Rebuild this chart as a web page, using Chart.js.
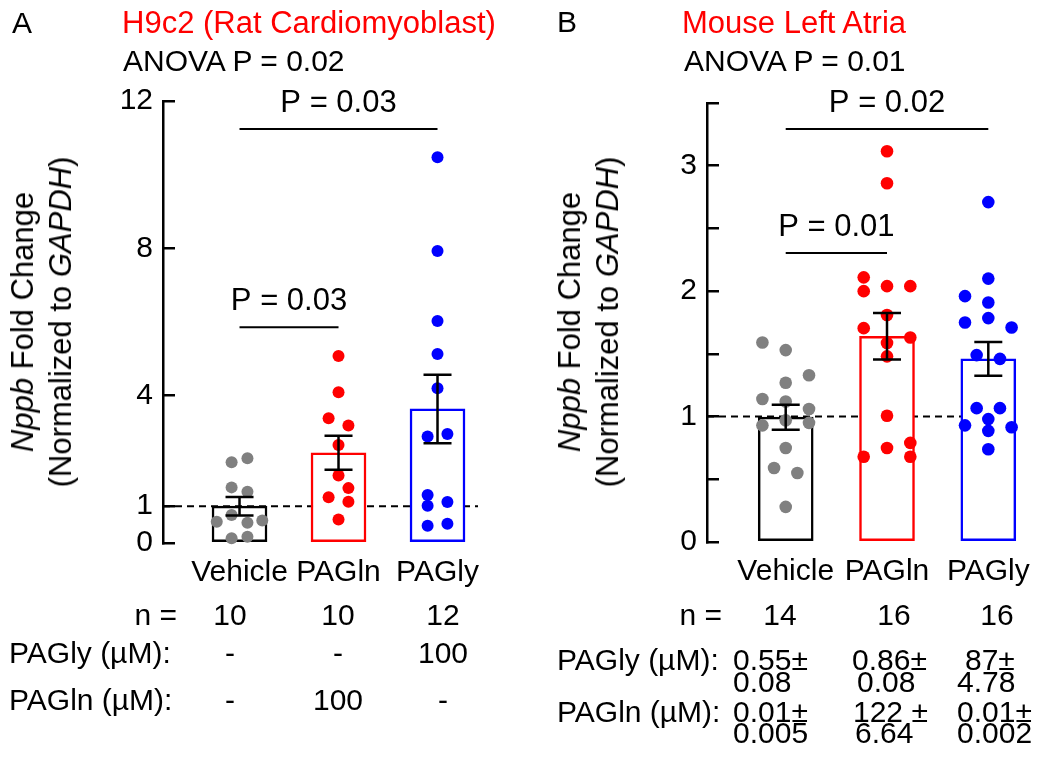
<!DOCTYPE html>
<html>
<head>
<meta charset="utf-8">
<script src="https://cdn.jsdelivr.net/npm/chart.js@4.4.1/dist/chart.umd.min.js"></script>
<style>
  body { margin: 0; background: #fff; }
  #page { position: relative; width: 1050px; height: 775px; overflow: hidden;
          font-family: 'Liberation Sans', Arial, sans-serif; color: #000; }
  canvas { position: absolute; top: 0; }
  .t { position: absolute; white-space: nowrap; }
  .ytitle { position: absolute; white-space: nowrap; font-size: 31px; line-height: 38px;
            text-align: center; transform: translate(-50%, -50%) rotate(-90deg); }
</style>
</head>
<body>
<div id="page">
  <canvas id="chartA" width="525" height="600" style="left:0"></canvas>
  <canvas id="chartB" width="525" height="600" style="left:525px"></canvas>
  <div class="ytitle" style="left:42px; top:322px"><div><i>Nppb</i> Fold Change</div><div>(Normalized to <i>GAPDH</i>)</div></div>
  <div class="ytitle" style="left:589px; top:322px"><div><i>Nppb</i> Fold Change</div><div>(Normalized to <i>GAPDH</i>)</div></div>
</div>
<script>
const categories = ['Vehicle', 'PAGln', 'PAGly'];

// panel A - H9c2 cells
const aVehicle = [2.19, 2.30, 1.51, 1.39, 0.76, 0.58, 0.55, 0.61, 0.13, 0.17];
const aVehicleJitter = [-0.08, 0.08, -0.08, 0.08, -0.08, -0.23, 0.08, 0.23, -0.08, 0.08];
const aPAGln = [5.08, 4.09, 3.39, 3.19, 2.66, 1.83, 1.49, 1.24, 1.12, 0.64];
const aPAGlnJitter = [0, 0, -0.1, 0.1, 0, 0, 0.1, -0.1, 0.1, 0];
const aPAGly = [10.47, 7.93, 6.03, 5.13, 4.20, 2.89, 2.96, 1.30, 1.01, 1.11, 0.47, 0.52];
const aPAGlyJitter = [0, 0, 0, 0, 0, -0.1, 0.1, -0.1, -0.1, 0.1, -0.1, 0.1];
const aMeans = [1.0, 2.45, 3.64];
const aSem = [0.25, 0.46, 0.93];
const aYTicks = [0, 1, 4, 8, 12];
const aN = ['10', '10', '12'];
const aPAGlyDose = ['-', '-', '100'];
const aPAGlnDose = ['-', '100', '-'];

// panel B - mouse left atria
const bVehicle = [1.59, 1.53, 1.33, 1.27, 1.14, 1.12, 1.06, 0.97, 0.93, 0.95, 0.75, 0.59, 0.55, 0.28];
const bVehicleJitter = [-0.23, 0, 0.23, 0, -0.23, 0, 0.23, 0, -0.23, 0.23, 0, -0.115, 0.115, 0];
const bPAGln = [3.115, 2.86, 2.11, 2.00, 2.04, 2.04, 1.81, 1.705, 1.63, 1.586, 1.48, 1.006, 0.79, 0.75, 0.68, 0.68];
const bPAGlnJitter = [0, 0, -0.23, -0.23, 0, 0.23, 0, -0.23, 0.23, 0, 0, 0, 0.23, 0, -0.23, 0.23];
const bPAGly = [2.71, 2.10, 1.96, 1.91, 1.75, 1.785, 1.71, 1.49, 1.46, 1.067, 1.067, 0.98, 0.93, 0.915, 0.886, 0.74];
const bPAGlyJitter = [0, 0, -0.23, 0, -0.23, 0, 0.23, -0.115, 0.115, -0.115, 0.115, 0, -0.23, 0.23, 0, 0];
const bMeans = [0.995, 1.64, 1.46];
const bSem = [0.10, 0.185, 0.135];
const bYTicks = [0, 0.5, 1, 1.5, 2, 2.5, 3, 3.5];
const bN = ['14', '16', '16'];
const bPAGlyConc = [['0.55±', '0.08'], ['0.86±', '0.08'], ['87±', '4.78']];
const bPAGlnConc = [['0.01±', '0.005'], ['122 ±', '6.64'], ['0.01±', '0.002']];

const FONT = "'Liberation Sans', Arial, sans-serif";
Chart.defaults.font.family = FONT;
Chart.defaults.color = '#000';

const barColors = ['#000000', '#ff0000', '#0000ff'];
const dotColors = ['#808080', '#ff0000', '#0000ff'];

function marksPlugin(p) {
  return {
    id: 'marks',
    beforeDatasetsDraw(chart) {
      const {ctx, chartArea, scales: {y}} = chart;
      const yy = y.getPixelForValue(1);
      ctx.save();
      ctx.strokeStyle = '#000';
      ctx.lineWidth = 2;
      ctx.setLineDash([7, 5]);
      ctx.beginPath();
      ctx.moveTo(chartArea.left, yy);
      ctx.lineTo(chartArea.right, yy);
      ctx.stroke();
      ctx.restore();
    },
    afterDatasetsDraw(chart) {
      const {ctx, scales: {x, y}} = chart;
      ctx.save();
      ctx.strokeStyle = '#000';
      ctx.lineWidth = 2.5;
      p.means.forEach((m, i) => {
        const cx = x.getPixelForValue(i);
        const top = y.getPixelForValue(m + p.sem[i]);
        const bot = y.getPixelForValue(m - p.sem[i]);
        ctx.beginPath();
        ctx.moveTo(cx, top); ctx.lineTo(cx, bot);
        ctx.moveTo(cx - 14, top); ctx.lineTo(cx + 14, top);
        ctx.moveTo(cx - 14, bot); ctx.lineTo(cx + 14, bot);
        ctx.stroke();
      });
      ctx.lineWidth = 2;
      ctx.fillStyle = '#000';
      ctx.font = '31px ' + FONT;
      ctx.textAlign = 'center';
      ctx.textBaseline = 'middle';
      p.brackets.forEach(b => {
        const x1 = x.getPixelForValue(b.from);
        const x2 = x.getPixelForValue(b.to);
        const yy = y.getPixelForValue(b.level);
        ctx.beginPath();
        ctx.moveTo(x1, yy); ctx.lineTo(x2, yy);
        ctx.stroke();
        ctx.fillText(b.label, (x1 + x2) / 2, yy - 26);
      });
      ctx.restore();
    }
  };
}

function makePanel(id, p) {
  const datasets = [{
    type: 'bar',
    data: p.means.map((m, i) => ({x: i, y: m})),
    backgroundColor: '#ffffff',
    borderColor: barColors,
    borderWidth: 2.5,
    borderSkipped: false,
    barThickness: 55,
    clip: false,
    order: 3
  }];
  p.groups.forEach((g, i) => {
    datasets.push({
      type: 'scatter',
      data: g.values.map((v, j) => ({x: i + g.jitter[j], y: v})),
      backgroundColor: dotColors[i],
      pointBackgroundColor: dotColors[i],
      pointBorderWidth: 0,
      pointRadius: p.radius,
      clip: false,
      order: 2
    });
  });

  return new Chart(document.getElementById(id), {
    type: 'bar',
    data: {datasets},
    options: {
      responsive: false,
      animation: false,
      layout: {padding: {top: p.top, right: p.right, left: 0, bottom: 0}},
      scales: {
        x: {
          type: 'linear', min: p.xMin, max: p.xMax, offset: false,
          afterBuildTicks: s => { s.ticks = categories.map((c, i) => ({value: i})); },
          afterFit: s => { s.height = 600 - p.bottom; },
          grid: {display: false, drawTicks: false, offset: false},
          border: {display: false},
          ticks: {
            callback: v => categories[Math.round(v)],
            font: {size: 30}, color: '#000', padding: 12,
            maxRotation: 0, autoSkip: false
          }
        },
        y: {
          min: 0, max: p.yMax,
          afterBuildTicks: s => { s.ticks = p.yTicks.map(v => ({value: v})); },
          afterFit: s => { s.width = p.axisX; },
          border: {display: true, color: '#000', width: 2.5},
          grid: {display: true, drawOnChartArea: false, drawTicks: true, tickLength: -12, color: '#000', lineWidth: 2.5},
          ticks: {
            callback: v => p.tickLabel(v),
            font: {size: 30}, color: '#000', padding: 22, autoSkip: false
          }
        }
      },
      plugins: {legend: {display: false}, tooltip: {enabled: false}}
    },
    plugins: [marksPlugin(p)]
  });
}

makePanel('chartA', {
  groups: [
    {values: aVehicle, jitter: aVehicleJitter},
    {values: aPAGln, jitter: aPAGlnJitter},
    {values: aPAGly, jitter: aPAGlyJitter}
  ],
  means: aMeans, sem: aSem, yTicks: aYTicks, yMax: 12,
  tickLabel: v => String(v),
  brackets: [
    {from: 0, to: 2, level: 11.24, label: 'P = 0.03'},
    {from: 0, to: 1, level: 5.86, label: 'P = 0.03'}
  ],
  radius: 6, top: 101, bottom: 543, right: 47, axisX: 163, xMin: -0.773, xMax: 2.409
});

makePanel('chartB', {
  groups: [
    {values: bVehicle, jitter: bVehicleJitter},
    {values: bPAGln, jitter: bPAGlnJitter},
    {values: bPAGly, jitter: bPAGlyJitter}
  ],
  means: bMeans, sem: bSem, yTicks: bYTicks, yMax: 3.5,
  tickLabel: v => (Number.isInteger(v) ? String(v) : ''),
  brackets: [
    {from: 0, to: 2, level: 3.293, label: 'P = 0.02'},
    {from: 0, to: 1, level: 2.304, label: 'P = 0.01'}
  ],
  radius: 6.3, top: 103, bottom: 542, right: 31, axisX: 182, xMin: -0.777, xMax: 2.303
});

// text around the plots
const page = document.getElementById('page');
function addText(str, x, y, align, size, color) {
  size = size || 30;
  const el = document.createElement('div');
  el.className = 't';
  el.textContent = str;
  el.style.fontSize = size + 'px';
  el.style.lineHeight = size + 'px';
  el.style.left = x + 'px';
  el.style.top = (y - size / 2) + 'px';
  if (color) el.style.color = color;
  if (align === 'center') el.style.transform = 'translateX(-50%)';
  if (align === 'right') el.style.transform = 'translateX(-100%)';
  page.appendChild(el);
}

addText('A', 12, 23);
addText('H9c2 (Rat Cardiomyoblast)', 122, 22, 'left', 31, '#ff0000');
addText('ANOVA P = 0.02', 123, 61);
addText('B', 557, 22);
addText('Mouse Left Atria', 682, 22, 'left', 31, '#ff0000');
addText('ANOVA P = 0.01', 684, 61);

const aCols = [230, 338, 443];
addText('n =', 177, 615, 'right');
addText('PAGly (µM):', 9, 653);
addText('PAGln (µM):', 9, 700);
aCols.forEach((cx, i) => {
  addText(aN[i], cx, 615, 'center');
  addText(aPAGlyDose[i], cx, 653, 'center');
  addText(aPAGlnDose[i], cx, 700, 'center');
});

const bCols = [780, 894, 997];
addText('n =', 722, 615, 'right');
addText('PAGly (µM):', 557, 660);
addText('PAGln (µM):', 557, 712);
const bGlyLeft = [[733, 733], [852, 857], [965, 957]];
const bGlnLeft = [[733, 733], [853, 855], [957, 957]];
bCols.forEach((cx, i) => {
  addText(bN[i], cx, 615, 'center');
  addText(bPAGlyConc[i][0], bGlyLeft[i][0], 660);
  addText(bPAGlyConc[i][1], bGlyLeft[i][1], 682);
  addText(bPAGlnConc[i][0], bGlnLeft[i][0], 712);
  addText(bPAGlnConc[i][1], bGlnLeft[i][1], 733);
});
</script>
</body>
</html>
